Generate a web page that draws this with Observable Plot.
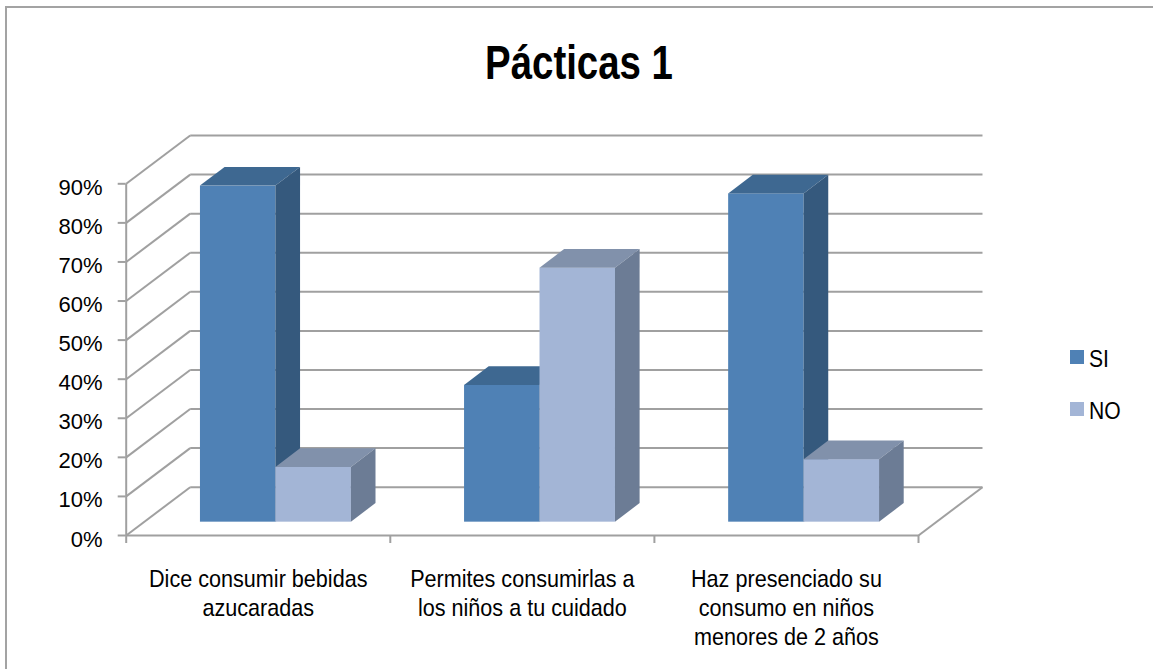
<!DOCTYPE html>
<html>
<head>
<meta charset="utf-8">
<script src="https://cdn.jsdelivr.net/npm/d3@7"></script>
<script src="https://cdn.jsdelivr.net/npm/@observablehq/plot@0.6"></script>
<style>
  html, body { margin: 0; padding: 0; background: #fff; }
  body { width: 1153px; height: 669px; overflow: hidden; position: relative;
         font-family: "Liberation Sans", Arial, sans-serif; color: #000; }
  #frame { position: absolute; left: 5px; top: 6px; width: 1220px; height: 740px;
           border: 2px solid #a3a3a3; box-sizing: border-box; }
  #title { position: absolute; left: 0; top: 39px; width: 1158px; text-align: center;
           font-size: 48px; font-weight: bold; line-height: 48px;
           transform: scaleX(0.8); transform-origin: 579px 0; }
  #chart { position: absolute; left: 0; top: 110px; }
  .lg-sw { position: absolute; left: 1070px; width: 14px; height: 14px; }
  .lg-tx { position: absolute; left: 1089px; font-size: 24px; line-height: 24px;
           transform: scaleX(0.88); transform-origin: 0 0; }
</style>
</head>
<body>
<div id="frame"></div>
<div id="title">Pácticas 1</div>
<div id="chart"></div>
<div id="legend"></div>
<script>
// ---- data ----
const categories = [
  "Dice consumir bebidas\nazucaradas",
  "Permites consumirlas a\nlos niños a tu cuidado",
  "Haz presenciado su\nconsumo en niños\nmenores de 2 años"
];
const seriesNames = ["SI", "NO"];
const siValues = [0.86, 0.35, 0.84];
const noValues = [0.14, 0.65, 0.16];
const yTicks = [0, 0.1, 0.2, 0.3, 0.4, 0.5, 0.6, 0.7, 0.8, 0.9];
const bandTicks = [0, 1, 2, 3];

// ---- styling / 3D geometry (in scale units) ----
const colors = {
  SI: { front: "#4f81b5", top: "#3e6891", side: "#35597d" },
  NO: { front: "#a3b5d6", top: "#8191ab", side: "#6c7c95" }
};
const gridColor = "#a0a0a0";
const depthX = 0.2423;   // floor depth, x units
const depthY = 0.1236;   // floor depth, y units
const frontFrac = 0.276; // bar front face position in depth
const barFrac = 0.385;   // bar depth
const barW = 1 / 3.5;    // gap width 150%

const values = { SI: siValues, NO: noValues };
const bars = [];
categories.forEach((c, i) => {
  seriesNames.forEach((s, k) => {
    const x0 = i + 0.75 * barW + k * barW + frontFrac * depthX;
    const y0 = frontFrac * depthY;
    bars.push({ id: s + i, s, i, x0, x1: x0 + barW, y0, yT: y0 + values[s][i],
                ox: barFrac * depthX, oy: barFrac * depthY });
  });
});

const backLines = yTicks.map(v => ({ x1: depthX, x2: bandTicks[3] + depthX, y1: v + depthY, y2: v + depthY }));
const sideLines = yTicks.map(v => ({ x1: 0, x2: depthX, y1: v, y2: v + depthY }));
const floorLines = [
  { x1: 0, x2: bandTicks[3], y1: 0, y2: 0 },
  { x1: bandTicks[3], x2: bandTicks[3] + depthX, y1: 0, y2: depthY },
  { x1: 0, x2: 0, y1: 0, y2: yTicks[yTicks.length - 1] }
];

const shadows = categories.flatMap((c, i) => {
  const xl = i + 0.75 * barW + frontFrac * depthX;
  const xr = xl + 2 * barW;
  const y0 = frontFrac * depthY;
  const ox = barFrac * depthX, oy = barFrac * depthY;
  return [
    { id: i, y: y0 - 0.008, xa: xl - 0.06, xb: xr + 0.01 },
    { id: i, y: y0 + oy, xa: xl + ox - 0.04, xb: xr + ox + 0.06 }
  ];
});

function barMarks(s) {
  const rows = bars.filter(d => d.s === s);
  const topPts = rows.flatMap(d => [
    { id: d.id, y: d.yT, xa: d.x0, xb: d.x1 },
    { id: d.id, y: d.yT + d.oy, xa: d.x0 + d.ox, xb: d.x1 + d.ox }
  ]);
  const sidePts = rows.flatMap(d => [
    { id: d.id, x: d.x1, ya: d.y0, yb: d.yT },
    { id: d.id, x: d.x1 + d.ox, ya: d.y0 + d.oy, yb: d.yT + d.oy }
  ]);
  return [
    Plot.rect(rows, { x1: "x0", x2: "x1", y1: "y0", y2: "yT", fill: colors[s].front }),
    Plot.areaX(topPts, { y: "y", x1: "xa", x2: "xb", z: "id", fill: colors[s].top }),
    Plot.areaY(sidePts, { x: "x", y1: "ya", y2: "yb", z: "id", fill: colors[s].side })
  ];
}

const svg = Plot.plot({
  width: 1153,
  height: 559,
  marginLeft: 125.7,
  marginRight: 235,
  marginTop: 73.3,
  marginBottom: 134,
  x: { domain: [0, 3] },
  y: { domain: [0, 0.9] },
  style: { fontFamily: '"Liberation Sans", Arial, sans-serif', fontSize: "22px",
           background: "transparent", overflow: "visible", color: "#000" },
  marks: [
    Plot.link(backLines, { x1: "x1", x2: "x2", y1: "y1", y2: "y2", stroke: gridColor, strokeWidth: 2 }),
    Plot.link(sideLines, { x1: "x1", x2: "x2", y1: "y1", y2: "y2", stroke: gridColor, strokeWidth: 2 }),
    Plot.link(floorLines, { x1: "x1", x2: "x2", y1: "y1", y2: "y2", stroke: gridColor, strokeWidth: 2 }),
    Plot.axisY({ ticks: yTicks, tickSize: 8, fill: "none", stroke: gridColor, strokeWidth: 2 }),
    Plot.axisY({ ticks: yTicks, tickSize: 8, tickPadding: 15.7, stroke: "none", dy: 4,
                 tickFormat: d3.format(".0%"), fontSize: 22 }),
    Plot.axisX({ ticks: bandTicks, tickSize: 8, fill: "none", stroke: gridColor, strokeWidth: 2 }),
    Plot.axisX({ ticks: [0.5, 1.5, 2.5], tickSize: 0, tickPadding: 31, stroke: "none",
                 tickFormat: v => categories[Math.floor(v)], fontSize: 24, lineHeight: 1.2 }),
    Plot.areaX(shadows, { y: "y", x1: "xa", x2: "xb", z: "id", fill: "#000", fillOpacity: 0.6,
                          ariaLabel: "shadow" }),
    ...barMarks("SI"),
    ...barMarks("NO")
  ]
});

svg.querySelectorAll('g[aria-label="shadow"]').forEach(g => g.style.filter = "blur(4px)");
const flatCats = categories.map(c => c.replace(/\n/g, ""));
svg.querySelectorAll("text").forEach(t => {
  if (!flatCats.includes(t.textContent.replace(/\n/g, ""))) return;
  const tr = t.getAttribute("transform");
  if (tr) t.setAttribute("transform", tr + " scale(0.9,1)");
  else {
    const x = +t.getAttribute("x") || 0, y = +t.getAttribute("y") || 0;
    t.setAttribute("transform", `translate(${x},${y}) scale(0.9,1) translate(${-x},${-y})`);
  }
});
document.getElementById("chart").appendChild(svg);

// legend
const legend = document.getElementById("legend");
const legendTops = { SI: 350, NO: 401.5 };
seriesNames.forEach(s => {
  const sw = document.createElement("div");
  sw.className = "lg-sw";
  sw.style.top = legendTops[s] + "px";
  sw.style.background = colors[s].front;
  legend.appendChild(sw);
  const tx = document.createElement("div");
  tx.className = "lg-tx";
  tx.style.top = (legendTops[s] - 3) + "px";
  tx.textContent = s;
  legend.appendChild(tx);
});
</script>
</body>
</html>
